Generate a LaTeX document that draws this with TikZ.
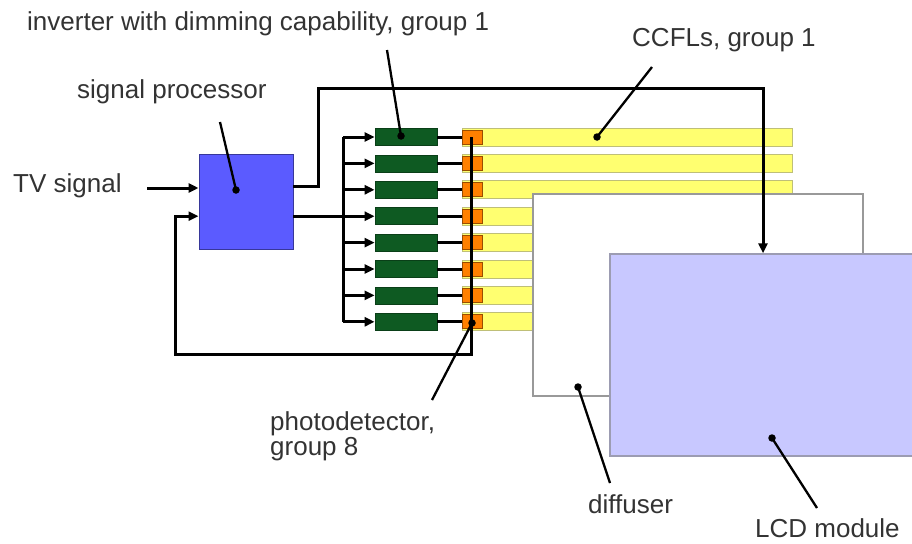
\documentclass[tikz,border=0pt]{standalone}
\usepackage{fontspec}
\setmainfont{Liberation Sans}
\usetikzlibrary{arrows.meta}
\definecolor{procblue}{HTML}{5B5BFF}
\definecolor{lcdblue}{HTML}{C8C8FF}
\definecolor{invgreen}{HTML}{0E5A22}
\definecolor{pdorange}{HTML}{FF8000}
\definecolor{lampyellow}{HTML}{FFFF70}
\begin{document}
\begin{tikzpicture}[x=1pt,y=-1pt,
  lbl/.style={font=\fontsize{26}{25}\selectfont, text=black!80, inner sep=0pt, anchor=base west, align=left},
  wire/.style={line width=3pt, line join=miter},
  arr/.style={wire, -{Triangle[length=10pt,width=9pt]}},
  ptr/.style={line width=2.3pt},
  dotc/.style={circle, fill=black, inner sep=0pt, minimum size=7.5pt},
  procbox/.style={draw=procblue!60!black, line width=1pt, fill=procblue, minimum width=94pt, minimum height=95pt, inner sep=0pt},
  invbox/.style={draw=invgreen!70!black, line width=0.8pt, fill=invgreen, minimum width=62pt, minimum height=17pt, inner sep=0pt},
  pdbox/.style={draw=pdorange!60!black, line width=0.8pt, fill=pdorange, minimum width=20pt, minimum height=14pt, inner sep=0pt},
  lampbox/.style={draw=lampyellow!50!gray, line width=1pt, fill=lampyellow, minimum width=330pt, minimum height=18pt, inner sep=0pt},
  panel/.style={draw=gray!80, line width=1.5pt, minimum width=330pt, minimum height=202pt, inner sep=0pt}
]
\useasboundingbox (0,0) rectangle (912,543);

% signal processor
\node[procbox] (proc) at (246,201.5) {};

% lamps, photodetectors, inverters
\foreach \k/\y in {1/137,2/163.4,3/189.8,4/216.2,5/242.6,6/269,7/295.4,8/321.8}{
  \node[lampbox] (lamp\k) at (627,\y) {};
  \node[pdbox] (pd\k) at (472,\y) {};
  \node[invbox] (inv\k) at (406,\y) {};
  \coordinate (b\k) at (343,\y);
  \draw[wire] (inv\k.east) -- (pd\k.west);
  \draw[arr] (b\k) -- (inv\k.west);
}

% diffuser and LCD module
\node[panel, fill=white] (diff) at (698,295) {};
\node[panel, draw=gray!60!lcdblue, fill=lcdblue] (lcd) at (775,355) {};

% wiring
\coordinate (tvin) at (147,188);
\coordinate (po1) at (293,186);
\coordinate (po2) at (293,216.2);
\coordinate (t1) at (318,88);
\coordinate (t2) at (763,88);
\coordinate (fb1) at (471,354);
\coordinate (fb2) at (175,354);

\draw[arr] (tvin) -- (tvin -| proc.west);
\draw[wire] (po2) -- (b4);
\draw[wire] (b1) -- (b8);
\draw[arr] (po1) -| (t1) -- (t2) -- (t2 |- lcd.north);
\draw[arr] (pd1.center -| fb1) -- (fb1) -- (fb2) |- (proc.west |- po2);

% labels
\node[lbl] (tinv) at (27,31) {inverter with dimming capability, group 1};
\node[lbl] (tproc) at (77,98) {signal processor};
\node[lbl] (ttv) at (13,192) {TV signal};
\node[lbl] (tccfl) at (632,47) {CCFLs, group 1};
\node[lbl] (tpd) at (270,455) {photodetector,\\group 8};
\node[lbl] (tdiff) at (588,513) {diffuser};
\node[lbl] (tlcd) at (755,537) {LCD module};

% pointers
\node[dotc] (dproc) at (236,190) {};
\node[dotc] (dinv) at (401,136) {};
\node[dotc] (dccfl) at (597,137) {};
\node[dotc] (dpd) at (472,323) {};
\node[dotc] (ddiff) at (578,387) {};
\node[dotc] (dlcd) at (772,438) {};
\coordinate (pproc) at (220,122);
\coordinate (pinv) at (387,50);
\coordinate (pccfl) at (652,67);
\coordinate (ppd) at (432,400);
\coordinate (pdiff) at (610,483);
\coordinate (plcd) at (817,508);
\draw[ptr] (pproc) -- (dproc.center);
\draw[ptr] (pinv) -- (dinv.center);
\draw[ptr] (pccfl) -- (dccfl.center);
\draw[ptr] (ppd) -- (dpd.center);
\draw[ptr] (pdiff) -- (ddiff.center);
\draw[ptr] (plcd) -- (dlcd.center);
\end{tikzpicture}
\end{document}
